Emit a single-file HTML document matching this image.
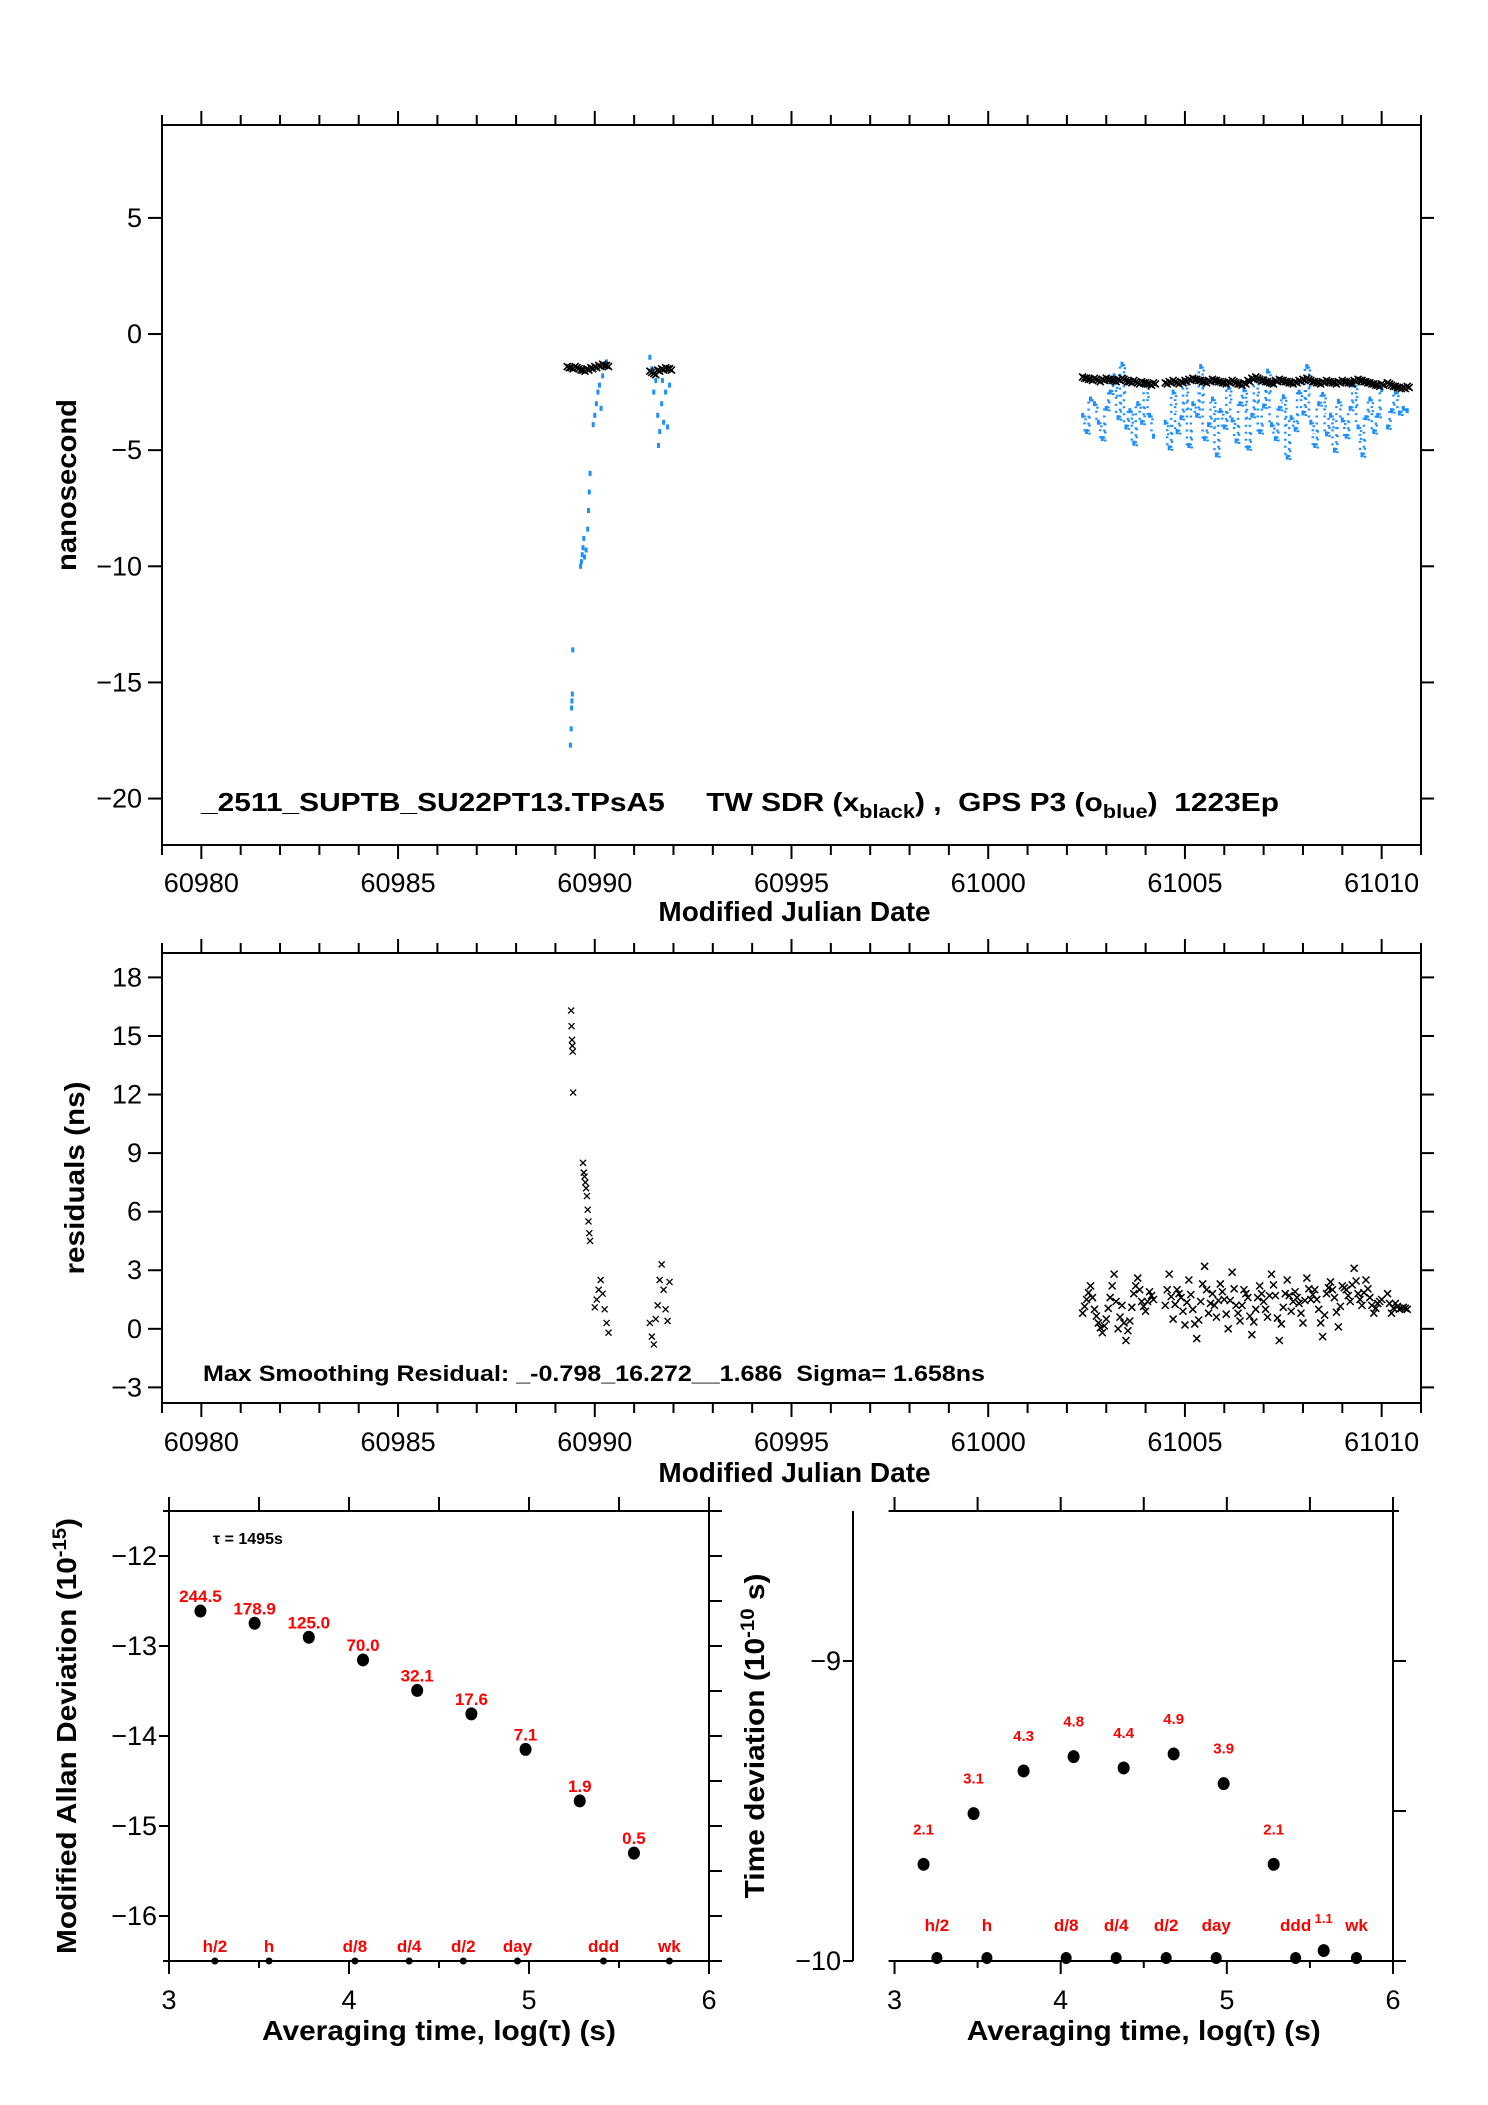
<!DOCTYPE html>
<html><head><meta charset="utf-8"><title>Time transfer comparison</title>
<style>
html,body{margin:0;padding:0;background:#fff;}
svg{display:block;font-family:"Liberation Sans",Arial,sans-serif;}
</style></head>
<body>
<svg id="page" width="1488" height="2105" viewBox="0 0 1488 2105" xmlns="http://www.w3.org/2000/svg">
<rect x="0" y="0" width="1488" height="2105" fill="#fff"/>
</svg>
<script>
// ---------- data ----------
const mjdTicks = [60980, 60985, 60990, 60995, 61000, 61005, 61010];
const topYTicks = [-20, -15, -10, -5, 0, 5];
const resYTicks = [-3, 0, 3, 6, 9, 12, 15, 18];
const segStep = 0.1;
const twSegStart = [60989.3, 60991.4, 61002.4, 61004.5, 61010.15];
const twSegVals = [
 [-1.4,-1.45,-1.4,-1.5,-1.55,-1.5,-1.45,-1.4,-1.35,-1.3,-1.35],
 [-1.6,-1.7,-1.55,-1.5,-1.45,-1.5],
 [-1.85,-1.9,-1.95,-1.9,-2.0,-1.95,-1.9,-1.95,-2.0,-1.95,-1.9,-2.0,-2.05,-2.0,-2.1,-2.05,-2.1,-2.15,-2.1],
 [-2.1,-2.05,-2.0,-2.1,-2.05,-2.0,-1.95,-1.9,-1.95,-2.0,-2.05,-2.0,-1.95,-2.0,-2.05,-2.1,-2.05,-2.0,-2.1,-2.15,-2.1,-2.0,-1.9,-1.85,-1.95,-2.0,-2.05,-2.1,-2.0,-1.95,-2.0,-2.05,-2.1,-2.05,-2.0,-1.95,-1.9,-2.0,-2.05,-2.1,-2.05,-2.0,-2.05,-2.1,-2.05,-2.0,-2.05,-2.1,-2.0,-1.95,-2.0,-2.05,-2.1,-2.15,-2.2,-2.15],
 [-2.1,-2.2,-2.25,-2.3,-2.3,-2.25]
];
const gpsEarlyT = [60989.38,60989.4,60989.41,60989.42,60989.43,60989.44,60989.64,60989.66,60989.68,60989.7,60989.72,60989.74,60989.78,60989.82,60989.84,60989.86,60989.88,60989.96,60990.0,60990.04,60990.08,60990.12,60990.16,60990.2,60990.25,60990.3,60991.4,60991.45,60991.5,60991.55,60991.6,60991.62,60991.65,60991.7,60991.72,60991.75,60991.8,60991.85,60991.9];
const gpsEarlyV = [-17.7,-17.0,-16.1,-15.8,-15.5,-13.6,-10.0,-9.8,-9.5,-9.2,-8.8,-9.6,-9.3,-8.4,-7.6,-6.8,-6.0,-3.9,-3.5,-3.0,-2.5,-2.2,-3.2,-1.8,-1.4,-1.2,-1.0,-1.5,-2.5,-2.0,-3.5,-4.8,-4.2,-3.0,-2.0,-3.8,-2.5,-4.0,-2.2];
const gpsSegStart = [61002.4, 61004.5, 61010.15];
const gpsSegVals = [
 [-3.5,-4.2,-2.8,-3.0,-3.8,-4.5,-3.2,-2.5,-1.8,-3.6,-1.3,-4.0,-3.3,-4.7,-3.0,-3.8,-2.2,-3.5,-4.4],
 [-3.8,-4.9,-2.5,-4.2,-3.6,-2.0,-4.8,-3.0,-3.5,-1.4,-4.5,-3.9,-2.8,-5.2,-3.3,-4.0,-2.3,-3.7,-4.6,-3.0,-2.4,-4.9,-3.5,-2.0,-4.2,-3.1,-1.6,-3.9,-4.5,-3.2,-2.7,-5.3,-3.6,-4.1,-2.5,-3.4,-1.4,-3.8,-4.8,-3.0,-2.6,-4.3,-3.5,-5.0,-2.9,-3.7,-4.4,-3.2,-2.2,-4.0,-5.2,-3.6,-2.8,-4.2,-3.5,-2.4],
 [-4.0,-3.3,-2.5,-3.4,-3.2,-3.3]
];
const resEarlyT = [60989.4,60989.41,60989.42,60989.43,60989.44,60989.45,60989.7,60989.72,60989.74,60989.76,60989.78,60989.8,60989.82,60989.84,60989.86,60989.88,60990.0,60990.05,60990.1,60990.15,60990.2,60990.25,60990.3,60990.35,60991.4,60991.45,60991.5,60991.55,60991.6,60991.65,60991.7,60991.75,60991.8,60991.85,60991.9];
const resEarlyV = [16.3,15.5,14.8,14.5,14.2,12.1,8.5,8.0,7.8,7.5,7.2,6.8,6.1,5.5,4.9,4.5,1.1,1.5,2.0,2.5,1.8,1.0,0.3,-0.2,0.3,-0.4,-0.8,0.5,1.2,2.5,3.3,2.0,1.0,0.4,2.4];
const resSegStart = [61002.4, 61004.5, 61010.15];
const resSegVals = [
 [0.8,1.5,2.2,1.0,0.3,-0.2,0.5,1.6,2.8,0.0,1.2,-0.6,0.4,1.8,2.6,1.4,0.9,1.9,1.5],
 [1.2,2.8,0.5,2.0,1.6,0.2,2.5,1.0,-0.5,1.4,3.2,0.8,1.8,0.6,2.3,1.5,0.0,2.9,1.2,0.4,2.0,1.6,-0.3,1.0,2.2,1.4,0.6,2.8,1.7,-0.6,1.1,2.5,0.9,1.9,1.3,0.3,2.6,1.5,2.0,1.0,-0.4,1.8,2.4,1.6,0.1,2.2,2.0,1.4,3.1,1.8,1.2,2.5,1.6,0.8,1.3,1.5],
 [1.8,0.8,1.3,1.0,1.1,1.0]
];
const logTau = [3.1746,3.4757,3.7767,4.0778,4.3788,4.6799,4.9809,5.2820,5.5830];
const mdevVals = [244.5,178.9,125.0,70.0,32.1,17.6,7.1,1.9,0.5];
const tdevVals = [2.1,3.1,4.3,4.8,4.4,4.9,3.9,2.1];
const tdevLastTau = 5.583;
const tdevLastVal = 1.1;
const markerNames = ["h/2","h","d/8","d/4","d/2","day","ddd","wk"];
const markerTau = [3.255,3.556,4.033,4.334,4.635,4.936,5.414,5.780];
const logXTicks = [3,4,5,6];
const mdevYTicks = [-16,-15,-14,-13,-12];
const tdevYTicks = [-10,-9];

// ---------- helpers ----------
const svg = document.getElementById('page');
const NS = 'http://www.w3.org/2000/svg';
function mk(tag, attrs, parent){
  const e = document.createElementNS(NS, tag);
  for (const k in attrs) e.setAttribute(k, attrs[k]);
  (parent||svg).appendChild(e);
  return e;
}
function line(g,x1,y1,x2,y2,w){ return mk('line',{x1:x1,y1:y1,x2:x2,y2:y2,stroke:'#000','stroke-width':w||2},g); }
function txt(g,x,y,s,size,anchor,weight,fill){
  const t = mk('text',{x:x,y:y,'font-size':size,'text-anchor':anchor||'middle','font-weight':weight||'normal',fill:fill||'#000'},g);
  t.textContent = s; return t;
}
function lin(d0,d1,p0,p1){ return v => p0 + (v-d0)*(p1-p0)/(d1-d0); }

// ---------- MJD panels ----------
function mjdPanel(name, top, bottom, ymin, ymax, yticks, titleY, labelY, ytitle, ytitleX, ytitleLen){
  const L=162, R=1421;
  const g = mk('g',{});
  
  
  const X = lin(60979, 61011, L, R), Y = lin(ymin, ymax, bottom, top);
  const fr = mk('rect',{x:L,y:top,width:R-L,height:bottom-top,fill:'none',stroke:'#000','stroke-width':2},g);
  
  
  for (let d=60979; d<=61011; d++){
    const x = X(d);
    const big = (d%5===0);
    line(g,x,top,x,top-(big?14:10),2);
    line(g,x,bottom,x,bottom+(big?14:10),2);
  }
  mjdTicks.forEach(v=>{
    const t = txt(g,X(v),labelY,String(v),27,'middle');
    
    
  });
  yticks.forEach(v=>{
    const y = Y(v);
    line(g,L-14,y,L,y,2); line(g,R,y,R+13,y,2);
    const t = txt(g,L-20,y+9,String(v).replace('-','\u2212'),27,'end');
    
    
  });
  const xt = txt(g,(L+R)/2+3,titleY,'Modified Julian Date',28,'middle','bold');
  
  
  const yc = (top+bottom)/2;
  const yt = txt(g,0,0,ytitle,28,'middle','bold');
  yt.setAttribute('transform','translate('+ytitleX+','+yc+') rotate(-90)');
  yt.setAttribute('textLength', ytitleLen);
  yt.setAttribute('lengthAdjust','spacingAndGlyphs');
  
  
  return {g:g,X:X,Y:Y};
}
function cross(g,x,y,s,w,color){
  const p = mk('path',{d:'M'+(x-s)+' '+(y-s)+'L'+(x+s)+' '+(y+s)+'M'+(x-s)+' '+(y+s)+'L'+(x+s)+' '+(y-s),stroke:color||'#000','stroke-width':w,fill:'none'},g);
  return p;
}

// top panel
const P1 = mjdPanel('time-difference-panel', 125, 845, -22, 9, topYTicks, 921, 892, 'nanosecond', 76, 172);
const gpsG = mk('g',{fill:'#1e8fff'},P1.g);


gpsEarlyT.forEach((t,i)=>{
  const r = mk('rect',{x:P1.X(t)-1.5,y:P1.Y(gpsEarlyV[i])-2.5,width:3,height:5},gpsG);
  
  
});
gpsSegStart.forEach((t0,s)=>{
  gpsSegVals[s].forEach((v,i)=>{
    const t = t0 + i*segStep;
    const r = mk('rect',{x:P1.X(t)-1.5,y:P1.Y(v)-2.5,width:3,height:5},gpsG);
    
    
    if (i>0){
      const pv = gpsSegVals[s][i-1];
      const ln = mk('line',{x1:P1.X(t-segStep/2),y1:P1.Y(pv),x2:P1.X(t-segStep/2),y2:P1.Y(v),stroke:'#1e8fff','stroke-width':2.5,'stroke-dasharray':'2 5'},gpsG);
      
      
      const ln2 = mk('line',{x1:P1.X(t-segStep/4),y1:P1.Y(pv)+3,x2:P1.X(t-segStep/4),y2:P1.Y((v+pv)/2),stroke:'#1e8fff','stroke-width':2.5,'stroke-dasharray':'2 6'},gpsG);
      
      
    }
  });
});
const twG = mk('g',{},P1.g);


twSegStart.forEach((t0,s)=>{
  twSegVals[s].forEach((v,i)=>{
    const t = t0 + i*segStep;
    const c = cross(twG,P1.X(t),P1.Y(v),3.5,1.6);
    
    
    const c2 = cross(twG,P1.X(t+segStep/2),P1.Y(v-0.05),3.5,1.6);
    
    
  });
});
const ann = mk('text',{x:201,y:811,'font-size':26,'font-weight':'bold',textLength:1078,lengthAdjust:'spacingAndGlyphs'},P1.g);


ann.innerHTML = '_2511_SUPTB_SU22PT13.TPsA5\u00a0\u00a0\u00a0\u00a0 TW SDR (x<tspan font-size="19" dy="7">black</tspan><tspan dy="-7">) ,\u00a0 GPS P3 (o</tspan><tspan font-size="19" dy="7">blue</tspan><tspan dy="-7">)\u00a0 1223Ep</tspan>';

// residual panel
const P2 = mjdPanel('residuals-panel', 953, 1403, -3.8, 19.25, resYTicks, 1482, 1451, 'residuals (ns)', 84, 193);
const resG = mk('g',{},P2.g);


resEarlyT.forEach((t,i)=>{
  const c = cross(resG,P2.X(t),P2.Y(resEarlyV[i]),3,1.3);
  
  
});
resSegStart.forEach((t0,s)=>{
  resSegVals[s].forEach((v,i)=>{
    const t = t0 + i*segStep;
    const c = cross(resG,P2.X(t),P2.Y(v),3.5,1.5);
    
    
    if (i>0){
      const pv = resSegVals[s][i-1];
      const c2 = cross(resG,P2.X(t-segStep/2),P2.Y((v+pv)/2),3.5,1.5);
      
      
    }
  });
});
const rAnn = txt(P2.g,203,1381,'Max Smoothing Residual: _-0.798_16.272__1.686\u00a0 Sigma= 1.658ns',22.5,'start','bold');
rAnn.setAttribute('textLength', 782);
rAnn.setAttribute('lengthAdjust','spacingAndGlyphs');



// ---------- stability panels ----------
function stabPanel(name, L, R, xmin, ymin, ymax, yticks, rightTicks, ytitle, ytitleX, ytitleLen){
  const top=1511, bottom=1961;
  const g = mk('g',{});
  
  
  const X = lin(xmin, 6, L, R), Y = lin(ymin, ymax, bottom, top);
  const x3 = X(3);
  line(g,x3-6,top,R+6,top,2);
  line(g,x3-6,bottom,R+6,bottom,2);
  line(g,L,top,L,bottom,2);
  line(g,R,top,R,bottom,2);
  for (let v=3; v<=6.001; v+=0.5){
    const x = X(v);
    line(g,x,top,x,top-14,2);
    line(g,x,bottom,x,bottom+(Number.isInteger(v)?13:7),2);
  }
  logXTicks.forEach(v=>{
    const t = txt(g,X(v),2009,String(v),27,'middle');
    
    
  });
  yticks.forEach(v=>{
    const y = Y(v);
    line(g,L-10,y,L,y,2);
    const t = txt(g,L-12,y+9,String(v).replace('-','\u2212'),27,'end');
    
    
  });
  rightTicks.forEach(v=>{ const y=Y(v); line(g,R,y,R+13,y,2); });
  const xt = txt(g,(X(3)+R)/2,2040,'Averaging time, log(\u03c4) (s)',28,'middle','bold');
  xt.setAttribute('textLength', 354);
  xt.setAttribute('lengthAdjust','spacingAndGlyphs');
  
  
  const yt = mk('text',{'font-size':28,'font-weight':'bold','text-anchor':'middle',transform:'translate('+ytitleX+',1736) rotate(-90)',textLength:ytitleLen,lengthAdjust:'spacingAndGlyphs'},g);
  yt.innerHTML = ytitle;
  
  
  return {g:g,X:X,Y:Y};
}

// MDEV
const P3 = stabPanel('mdev-panel', 169, 709, 3, -16.5, -11.5, mdevYTicks,
  [-16.5,-16,-15.5,-15,-14.5,-14,-13.5,-13,-12.5,-12,-11.5],
  'Modified Allan Deviation (10<tspan font-size="19" dy="-10">-15</tspan><tspan dy="10">)</tspan>', 76, 436);
const tauLbl = mk('text',{x:213,y:1544,'font-size':16,'font-weight':'bold'},P3.g);
tauLbl.textContent = '\u03c4 = 1495s';


mdevVals.forEach((v,i)=>{
  const x = P3.X(logTau[i]), y = P3.Y(Math.log10(v*1e-15));
  const c = mk('ellipse',{cx:x,cy:y,rx:6,ry:6.5,fill:'#000'},P3.g);
  
  
  const t = txt(P3.g,x,y-9,v.toFixed(1),17,'middle','bold','#f00');
  
  
});
markerNames.forEach((n,i)=>{
  const x = P3.X(markerTau[i]);
  const d = mk('circle',{cx:x,cy:1961,r:3.5,fill:'#000'},P3.g);
  
  
  const t = txt(P3.g,x,1952,n,17,'middle','bold','#f00');
  
  
});

// TDEV
const P4 = stabPanel('tdev-panel', 853, 1393, 2.75, -10, -8.5, tdevYTicks,
  [-10,-9.5,-9],
  'Time deviation (10<tspan font-size="19" dy="-10">-10</tspan><tspan dy="10"> s)</tspan>', 764, 325);
tdevVals.forEach((v,i)=>{
  const x = P4.X(logTau[i]), y = P4.Y(Math.log10(v*1e-10));
  const c = mk('ellipse',{cx:x,cy:y,rx:6,ry:6.5,fill:'#000'},P4.g);
  
  
  const t = txt(P4.g,x,y-30,v.toFixed(1),15,'middle','bold','#f00');
  
  
});
markerNames.forEach((n,i)=>{
  const x = P4.X(markerTau[i]);
  const d = mk('ellipse',{cx:x,cy:1958,rx:5.5,ry:6,fill:'#000'},P4.g);
  
  
  const t = txt(P4.g,x,1931,n,17,'middle','bold','#f00');
  
  
});
{
  const x = P4.X(tdevLastTau), y = P4.Y(Math.log10(tdevLastVal*1e-10)) + 2;
  const c = mk('ellipse',{cx:x,cy:y,rx:6,ry:6.5,fill:'#000'},P4.g);
  
  
  const t = txt(P4.g,x,1923,tdevLastVal.toFixed(1),13,'middle','bold','#f00');
  
  
}
</script>
</body></html>
